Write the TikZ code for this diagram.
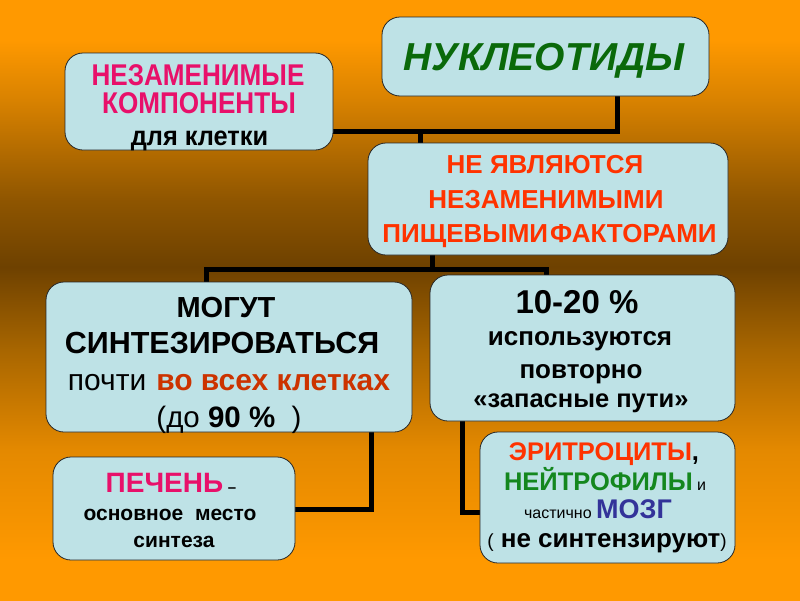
\documentclass[tikz,border=0pt]{standalone}
\usepackage{fontspec}
\setmainfont{Liberation Sans}
\newfontfamily\narrowfont[FakeStretch=0.87]{Liberation Sans}
\newfontfamily\slimfont[FakeStretch=0.94]{Liberation Sans}
\pgfdeclarelayer{bg}
\pgfdeclarelayer{lines}
\pgfsetlayers{bg,lines,main}
\pgfdeclareverticalshading{bgshade}{100bp}{
  rgb(0bp)=(1,0.6,0);
  rgb(25bp)=(1,0.6,0);
  rgb(28.33bp)=(1,0.6,0);
  rgb(37.5bp)=(0.894,0.537,0);
  rgb(45.83bp)=(0.66,0.40,0);
  rgb(52.75bp)=(0.431,0.255,0);
  rgb(58.33bp)=(0.56,0.335,0);
  rgb(66.67bp)=(0.85,0.51,0);
  rgb(71.67bp)=(1,0.6,0);
  rgb(75bp)=(1,0.6,0);
  rgb(100bp)=(1,0.6,0)}
\definecolor{boxfill}{RGB}{190,226,230}
\definecolor{nukgreen}{RGB}{10,105,10}
\definecolor{magred}{RGB}{232,16,106}
\definecolor{redor}{RGB}{255,51,0}
\definecolor{brred}{RGB}{204,51,0}
\definecolor{neugreen}{RGB}{20,135,30}
\definecolor{mozblue}{RGB}{51,51,153}
\begin{document}
\begin{tikzpicture}[x=1pt,y=-1pt,
  box/.style={draw=black!85, line width=0.8pt, fill=boxfill, rounded corners=18pt, inner sep=0pt},
  txt/.style={anchor=base, inner sep=0pt, font=\bfseries},
  conn/.style={line width=5pt, draw=black, line join=miter}]
\useasboundingbox (0,0) rectangle (800,600);
\begin{pgfonlayer}{bg}
\shade[shading=bgshade] (0,0) rectangle (800,600);
\end{pgfonlayer}

% boxes
\node[box, minimum width=327, minimum height=79] (nuk) at (545.5,56.5) {};
\node[box, minimum width=268, minimum height=97] (nez) at (199,101.5) {};
\node[box, minimum width=360, minimum height=112] (nya) at (548,199) {};
\node[box, minimum width=366, minimum height=150] (mog) at (229,357) {};
\node[box, minimum width=305, minimum height=146] (pct) at (582.5,348) {};
\node[box, minimum width=242, minimum height=103] (pech) at (174,508.5) {};
\node[box, minimum width=255, minimum height=131] (eri) at (607.5,497.5) {};

% junction coordinates
\coordinate (j1) at (617,131);
\coordinate (j2) at (420,131);
\coordinate (j3) at (432,269);
\coordinate (j4) at (206,269);
\coordinate (j5) at (546,269);
\coordinate (j6) at (371,509);
\coordinate (j7) at (462,512);

\begin{pgfonlayer}{lines}
\draw[conn] (nuk.south -| j1) -- (j1) -- (nez.east |- j1);
\draw[conn] (j2) -- (nya.north -| j2);
\draw[conn] (nya.south -| j3) -- (j3);
\draw[conn] (mog.north -| j4) -- (j4) -- (j5) -- (pct.north -| j5);
\draw[conn] (mog.south -| j6) -- (j6) -- (pech.east |- j6);
\draw[conn] (pct.south -| j7) -- (j7) -- (eri.west |- j7);
\end{pgfonlayer}

% texts
\node[txt, text=nukgreen, font=\fontsize{39}{41}\selectfont\bfseries\itshape] (t1) at (544,70) {НУКЛЕОТИДЫ};

\node[txt, text=magred, font=\fontsize{30}{32}\selectfont\narrowfont\bfseries] (t2a) at (198,85) {НЕЗАМЕНИМЫЕ};
\node[txt, text=magred, font=\fontsize{30}{32}\selectfont\narrowfont\bfseries] (t2b) at (199,113) {КОМПОНЕНТЫ};
\node[txt, font=\fontsize{27}{29}\selectfont\slimfont\bfseries] (t2c) at (199.5,145) {для клетки};

\node[txt, text=redor, font=\fontsize{26}{28}\selectfont\bfseries] (t3a) at (545,173) {НЕ ЯВЛЯЮТСЯ};
\node[txt, text=redor, font=\fontsize{26}{28}\selectfont\bfseries] (t3b) at (546,208) {НЕЗАМЕНИМЫМИ};
\node[txt, text=redor, font=\fontsize{26}{28}\selectfont\bfseries] (t3c) at (549.5,242) {ПИЩЕВЫМИ\hspace{2pt}ФАКТОРАМИ};

\node[txt, font=\fontsize{29}{31}\selectfont\bfseries] (t4a) at (226,317) {МОГУТ};
\node[txt, font=\fontsize{30.5}{32}\selectfont\bfseries] (t4b) at (222,353) {СИНТЕЗИРОВАТЬСЯ};
\node[txt, font=\fontsize{30}{32}\selectfont] (t4c) at (229,390) {почти\hspace{10pt}\textbf{\textcolor{brred}{во всех клетках}}};
\node[txt, font=\fontsize{29.5}{31}\selectfont] (t4d) at (229,427) {(до \textbf{90 \%}\ \ )};

\node[txt, font=\fontsize{28}{30}\selectfont\bfseries] (t5a) at (171,492) {\textcolor{magred}{ПЕЧЕНЬ}\,{\fontsize{15}{16}\selectfont –}};
\node[txt, font=\fontsize{21}{23}\selectfont\bfseries] (t5b) at (170,520) {основное\ \ место};
\node[txt, font=\fontsize{21}{23}\selectfont\bfseries] (t5c) at (174,547) {синтеза};

\node[txt, font=\fontsize{33}{35}\selectfont\bfseries] (t6a) at (577,313) {10-20 \%};
\node[txt, font=\fontsize{26}{28}\selectfont\bfseries] (t6b) at (580,345) {используются};
\node[txt, font=\fontsize{26}{28}\selectfont\bfseries] (t6c) at (581,378) {повторно};
\node[txt, font=\fontsize{25.5}{27}\selectfont\bfseries] (t6d) at (581,407) {«запасные пути»};

\node[txt, font=\fontsize{25.5}{27}\selectfont\bfseries] (t7a) at (604,460) {\textcolor{redor}{ЭРИТРОЦИТЫ},};
\node[txt, font=\fontsize{25.5}{27}\selectfont\bfseries] (t7b) at (605,490) {\textcolor{neugreen}{НЕЙТРОФИЛЫ}\,{\mdseries\fontsize{16}{18}\selectfont и}};
\node[txt, font=\fontsize{16}{18}\selectfont\mdseries] (t7c) at (598,518) {частично \textcolor{mozblue}{\fontsize{27}{29}\selectfont\bfseries МОЗГ}};
\node[txt, font=\fontsize{26}{28}\selectfont\bfseries] (t7d) at (607,547) {{\mdseries\fontsize{19}{21}\selectfont (} не синтензируют{\mdseries\fontsize{19}{21}\selectfont )}};
\end{tikzpicture}
\end{document}
